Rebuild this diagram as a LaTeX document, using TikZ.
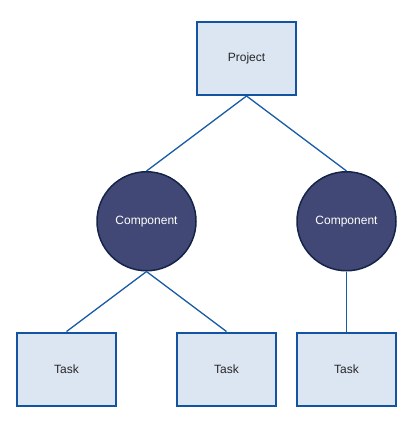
\documentclass[tikz,border=0pt]{standalone}
\usepackage{fontspec}
\setmainfont{Liberation Sans}
\usepackage{xcolor}
\usepackage{tikz}
\usetikzlibrary{positioning}

\definecolor{boxfill}{RGB}{220,230,242}
\definecolor{boxline}{RGB}{18,84,162}
\definecolor{compfill}{RGB}{66,72,117}
\definecolor{compline}{RGB}{20,36,72}
\definecolor{linkcol}{RGB}{24,92,168}

\begin{document}
\begin{tikzpicture}[
    x=1pt, y=1pt,
    every node/.style={font=\fontsize{12}{14}\selectfont},
    box/.style={draw=boxline, line width=2pt, fill=boxfill, minimum width=99pt,
                minimum height=73pt, inner sep=0pt, text=black!85},
    comp/.style={circle, draw=compline, line width=1.5pt, fill=compfill, minimum size=99pt,
                inner sep=0pt, text=white},
    link/.style={linkcol, line width=1.3pt},
]
\useasboundingbox (0,0) rectangle (416,-422);

% --- Project (top) ---
\node[box]                                        (project) at (246.5,-58.5) {Project};

% --- Components (middle row) ---
\node[comp, below=75pt of project, xshift=-100pt] (compA) {Component};
\node[comp, below=75pt of project, xshift=100pt]  (compB) {Component};

% --- Tasks (bottom row) ---
\node[box,  below=60pt of compA, xshift=-80pt]    (taskA) {Task};
\node[box,  below=60pt of compA, xshift=80pt]     (taskB) {Task};
\node[box,  below=60pt of compB]                  (taskC) {Task};

% --- Links ---
\draw[link] (project.south) -- (compA.north);
\draw[link] (project.south) -- (compB.north);
\draw[link] (compA.south) -- (taskA.north);
\draw[link] (compA.south) -- (taskB.north);
\draw[link] (compB.south) -- (taskC.north);
\end{tikzpicture}
\end{document}
